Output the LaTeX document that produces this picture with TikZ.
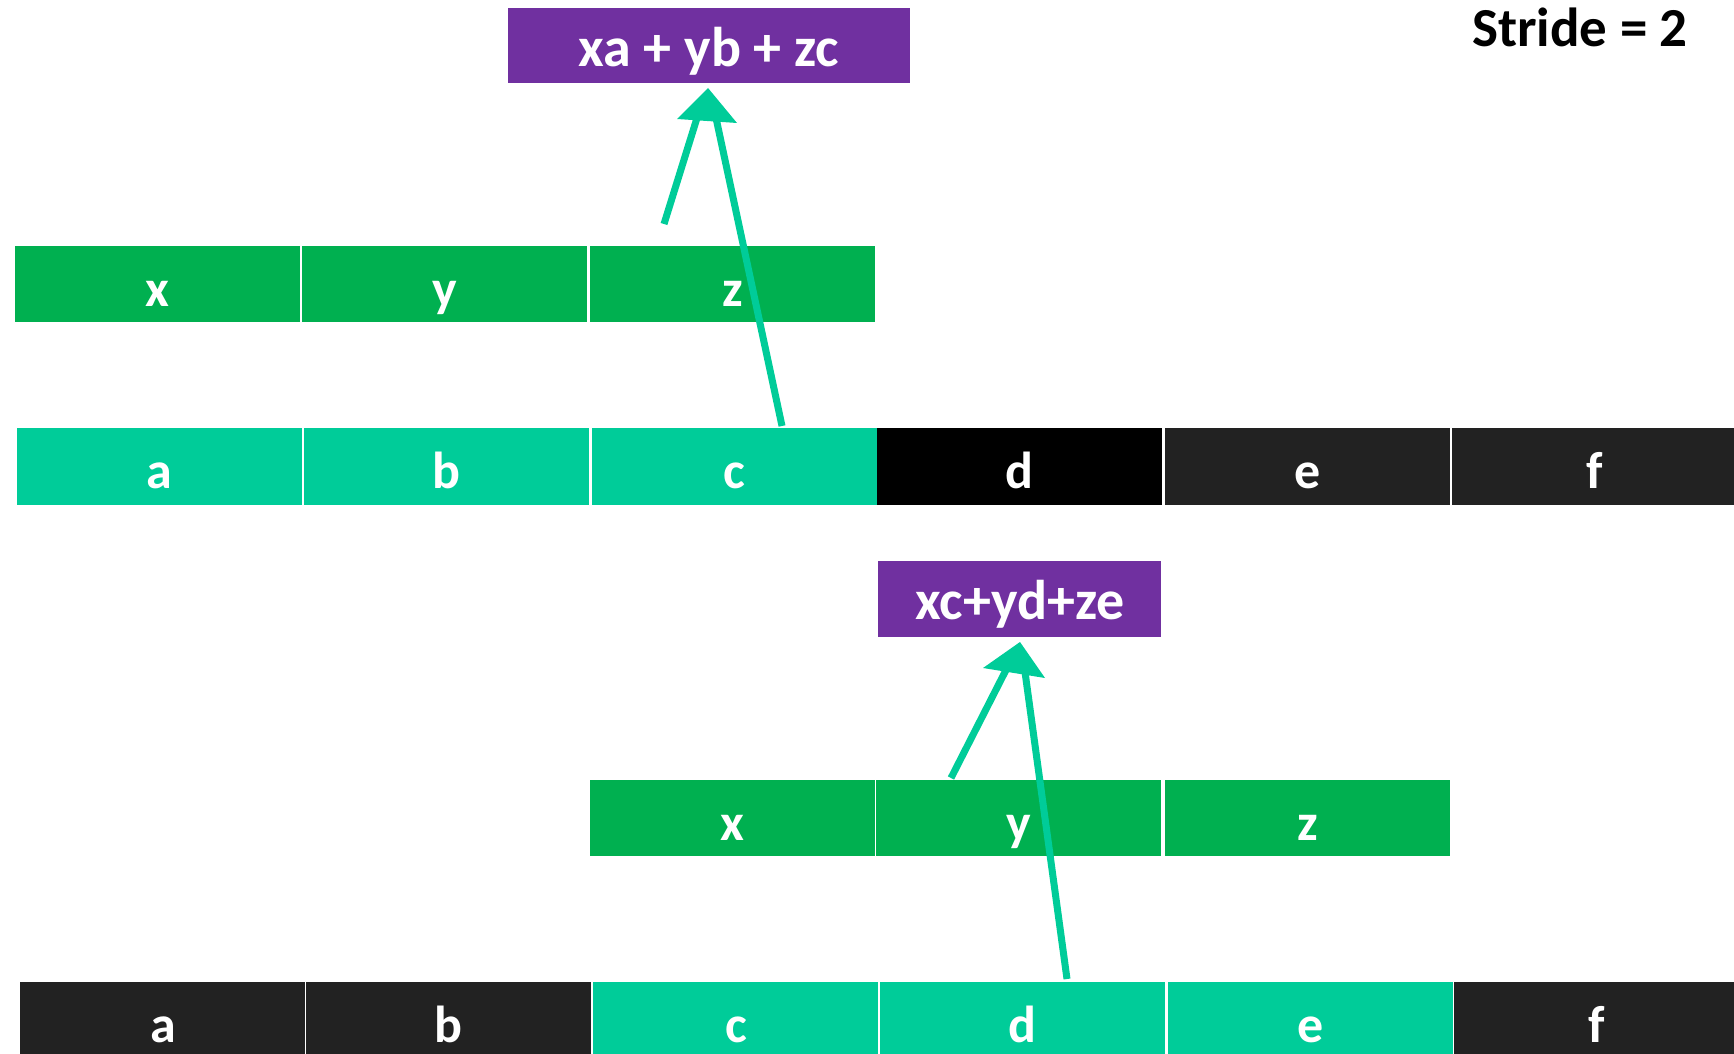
\documentclass[tikz,border=0pt]{standalone}
\usepackage{fontspec}
\setmainfont{Carlito}
\definecolor{pplbox}{HTML}{7030A0}
\definecolor{kgreen}{HTML}{00B050}
\definecolor{kteal}{HTML}{00CC99}
\definecolor{kdark}{HTML}{222222}
\begin{document}
\begin{tikzpicture}[x=0.5pt,y=-0.5pt,
  cellbox/.style={anchor=north west, inner sep=0pt, minimum width=142.5pt,
    minimum height=38.25pt, text height=22pt, text depth=0pt, text=white,
    font=\fontsize{26}{30}\selectfont\bfseries},
  kern/.style={cellbox, fill=kgreen},
  inp/.style={cellbox, fill=kteal},
  idle/.style={cellbox, fill=kdark},
  outbox/.style={cellbox, fill=pplbox, minimum height=37.8pt, text height=20.4pt,
    font=\fontsize{28}{33}\selectfont\bfseries},
  shaft/.style={draw=kteal, line width=3.5pt},
  head/.style={fill=kteal}
]
\useasboundingbox (0,0) rectangle (1734,1054);
\clip (0,0) rectangle (1734,1054);

% title
\node[anchor=base, font=\fontsize{27.5}{32}\selectfont\bfseries] (stride) at (1580,46.5) {Stride = 2};

% ---- upper part ----
\node[outbox, minimum width=201pt] (out1) at (507.5,7.5) {xa + yb + zc};

\node[kern] (kx1) at (14.5,245.5) {x};
\node[kern] (ky1) at (302,245.5) {y};
\node[kern] (kz1) at (589.5,245.5) {z};

\node[inp]  (a1) at (16.5,428) {a};
\node[inp]  (b1) at (304,428) {b};
\node[inp]  (c1) at (591.5,428) {c};
\node[cellbox, fill=black] (d1) at (877,428) {d};
\node[idle] (e1) at (1164.5,428) {e};
\node[idle] (f1) at (1452,428) {f};

% ---- lower part ----
\node[outbox, minimum width=141.5pt] (out2) at (878,561) {xc+yd+ze};

\node[kern] (kx2) at (589.5,779.5) {x};
\node[kern] (ky2) at (876,779.5) {y};
\node[kern] (kz2) at (1164.5,779.5) {z};

\node[idle] (a2) at (20,982) {a};
\node[idle] (b2) at (306,982) {b};
\node[inp]  (c2) at (593,982) {c};
\node[inp]  (d2) at (880,982) {d};
\node[inp]  (e2) at (1168,982) {e};
\node[idle] (f2) at (1454,982) {f};

% ---- arrows, upper ----
\coordinate (tipA) at (708,88);
\coordinate (hlA) at (677,119);
\coordinate (hrA) at (737,123);
\coordinate (sA1) at (664,224);
\coordinate (eA1) at (697,118);
\coordinate (sA2) at (782,426);
\coordinate (eA2) at (716,118);
\draw[shaft] (sA1) -- (eA1);
\draw[shaft] (sA2) -- (eA2);
\fill[head] (tipA) -- (hlA) -- (hrA) -- cycle;

% ---- arrows, lower ----
\coordinate (tipB) at (1020,642);
\coordinate (hlB) at (983,668);
\coordinate (hrB) at (1045,678);
\coordinate (sB1) at (951,778);
\coordinate (eB1) at (1006,670);
\coordinate (sB2) at (1067,979);
\coordinate (eB2) at (1025,672);
\draw[shaft] (sB1) -- (eB1);
\draw[shaft] (sB2) -- (eB2);
\fill[head] (tipB) -- (hlB) -- (hrB) -- cycle;
\end{tikzpicture}
\end{document}
